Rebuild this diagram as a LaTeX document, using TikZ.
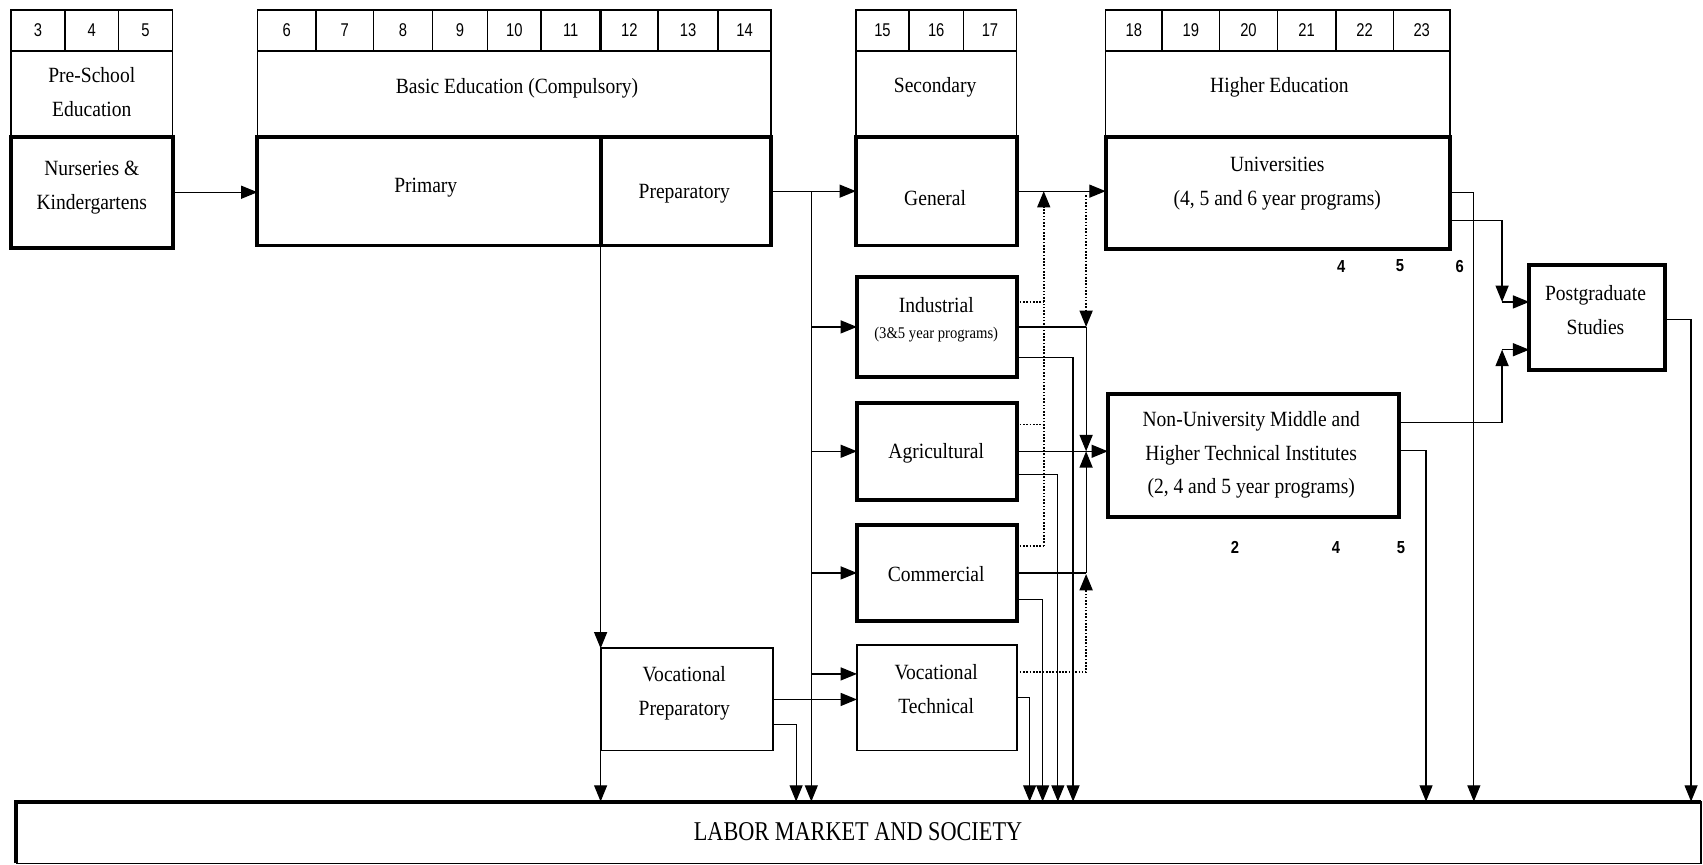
\documentclass[tikz,border=0pt]{standalone}
\usepackage{fontspec}
\setmainfont{Liberation Serif}[FakeStretch=0.9]
\newfontfamily\labfont{Liberation Serif}[FakeStretch=0.82]
\newfontfamily\digfont{Liberation Sans}[FakeStretch=0.8]
\newfontfamily\bdfont{Liberation Sans}[FakeStretch=0.85]
\usetikzlibrary{arrows.meta,calc}
\begin{document}
\begin{tikzpicture}[x=1pt,y=-1pt,
  every node/.style={inner sep=0pt,outer sep=0pt},
  cell/.style={draw,line width=1.4pt,minimum height=38pt,font=\digfont\fontsize{17}{17}\selectfont},
  lbox/.style={draw,line width=1.4pt},
  tbox/.style={draw,line width=3.6pt},
  mbox/.style={draw,line width=1.7pt},
  txt/.style={align=center,font=\fontsize{20}{31}\selectfont},
  stxt/.style={align=center,font=\fontsize{15}{18}\selectfont},
  num/.style={font=\bdfont\bfseries\fontsize{16}{16}\selectfont},
  con/.style={line width=1.1pt},
  arr/.style={con,-{Triangle[length=15pt,width=12pt]}},
  dot/.style={line width=1.5pt,dash pattern=on 1.5pt off 1.5pt},
  darr/.style={dot,-{Triangle[length=15pt,width=12pt]}}]
\useasboundingbox (0,0) rectangle (1568,796.4);

% ---- age rows ----
\foreach \a/\b/\t in {10/60/3,60/109/4,109/159/5,
  237/291/6,291/344/7,344/398/8,398/449/9,449/498/10,498/553/11,553/606/12,606/661/13,661/710/14,
  788/837/15,837/887/16,887/936/17,
  1018/1070/18,1070/1123/19,1123/1176/20,1176/1230/21,1230/1283/22,1283/1335/23}
  \node[cell,minimum width={\b-\a}] (age\t) at ({(\a+\b)/2},28) {\t};
\draw[line width=3pt] (age11.north east) -- (age11.south east);

% ---- label boxes ----
\node[lbox,minimum width=149pt,minimum height=79pt] (preL) at (84.5,86.5) {};
\node[lbox,minimum width=473pt,minimum height=79pt] (basL) at (473.5,86.5) {};
\node[lbox,minimum width=148pt,minimum height=79pt] (secL) at (862,86.5) {};
\node[lbox,minimum width=317pt,minimum height=79pt] (higL) at (1176.5,86.5) {};
\node[txt] (preT) at (84.5,85) {Pre-School\\Education};
\node[txt] (basT) at (476,81) {Basic Education (Compulsory)};
\node[txt] (secT) at (861,80) {Secondary};
\node[txt] (higT) at (1178,80) {Higher Education};

% ---- main boxes ----
\node[tbox,minimum width=149pt,minimum height=102pt] (nurs) at (84.5,177) {};
\node[tbox,minimum width=316pt,minimum height=100pt] (prim) at (395,176) {};
\node[tbox,minimum width=157pt,minimum height=100pt] (prep) at (631.5,176) {};
\node[tbox,minimum width=148pt,minimum height=100pt] (gen) at (862,176) {};
\node[tbox,minimum width=317pt,minimum height=103pt] (univ) at (1176.5,177.5) {};
\node[tbox,minimum width=147pt,minimum height=92pt] (ind) at (862.5,301) {};
\node[tbox,minimum width=147pt,minimum height=89pt] (agr) at (862.5,415.5) {};
\node[tbox,minimum width=147pt,minimum height=89pt] (com) at (862.5,527.5) {};
\node[mbox,minimum width=147pt,minimum height=97pt] (vtech) at (862.5,642.5) {};
\node[mbox,minimum width=159pt,minimum height=94pt] (vprep) at (632.5,644) {};
\node[tbox,minimum width=268pt,minimum height=113pt] (nonu) at (1154,419.5) {};
\node[tbox,minimum width=125pt,minimum height=97pt] (post) at (1470.5,292.5) {};
\node[lbox,minimum width=1551pt,minimum height=57pt] (labor) at (790.5,766.5) {};
\draw[line width=3.6pt] (labor.south west) -- (labor.north west) -- (labor.north east);

% ---- texts ----
\node[txt] (nursT) at (84.5,172.5) {Nurseries \&\\Kindergartens};
\node[txt] (primT) at (392,173) {Primary};
\node[txt] (prepT) at (630,178) {Preparatory};
\node[txt] (genT) at (861,182) {General};
\node[txt] (univT) at (1176,169) {Universities\\(4, 5 and 6 year programs)};
\node[txt] (indT) at (862,281) {Industrial};
\node[stxt] (indS) at (862,308) {(3\&5 year programs)};
\node[txt] (agrT) at (862,417) {Agricultural};
\node[txt] (comT) at (862,529) {Commercial};
\node[txt] (vtechT) at (862,634.5) {Vocational\\Technical};
\node[txt] (vprepT) at (630,638.5) {Vocational\\Preparatory};
\node[txt] (nonuT) at (1152,419) {Non-University Middle and\\Higher Technical Institutes\\(2, 4 and 5 year programs)};
\node[txt] (postT) at (1469,285.5) {Postgraduate\\Studies};
\node[font=\labfont\fontsize{25}{25}\selectfont] (laborT) at (790,766) {LABOR MARKET AND SOCIETY};
\node[num] (u4) at (1235,245) {4};
\node[num] (u5) at (1289,245) {5};
\node[num] (u6) at (1344,245) {6};
\node[num] (n2) at (1137,504) {2};
\node[num] (n4) at (1230,504) {4};
\node[num] (n5) at (1290,504) {5};

% ---- connectors ----
\draw[arr] (nurs.east) -- (nurs.east -| prim.west);
\draw[arr] (prep.east) -- (gen.west);
\coordinate (dtop) at ($(prep.east)+(37,0)$);
\draw[arr] (dtop) -- (dtop |- labor.north);
\draw[arr] (dtop |- ind.west) -- (ind.west);
\draw[arr] (dtop |- agr.west) -- (agr.west);
\draw[arr] (dtop |- com.west) -- (com.west);
\coordinate (vt1) at ($(vtech.west)+(0,-22)$);
\draw[arr] (dtop |- vt1) -- (vt1);
\draw[arr] (prim.south east) -- (vprep.north west);
\draw[arr] (vprep.south west) -- (vprep.south west |- labor.north);
\draw[arr] (vprep.east) -- (vprep.east -| vtech.west);
\coordinate (vp2) at ($(vprep.east)+(21,23)$);
\draw[arr] (vprep.east |- vp2) -- (vp2) -- (vp2 |- labor.north);

\draw[arr] (gen.east) -- (gen.east -| univ.west);

% dotted links
\coordinate (xa) at ($(gen.east)+(25,0)$);
\coordinate (xb) at ($(gen.east)+(64,0)$);
\coordinate (di) at ($(ind.east)+(0,-23)$);
\coordinate (dg) at ($(agr.east)+(0,-24.5)$);
\coordinate (dA) at ($(com.east)+(0,-24.5)$);
\draw[dot] (di) -- (di -| xa);
\draw[dot] (dg) -- (dg -| xa);
\draw[dot] (dA) -- (dA -| xa);
\draw[darr] (dA -| xa) -- (xa);
\coordinate (xb1) at ($(xb)+(0,4)$);
\draw[darr] (xb1) -- (xb |- ind.east);
\coordinate (vt2) at ($(vtech.east)+(0,-23.5)$);
\coordinate (xb2) at ($(xb |- com.east)+(0,1)$);
\draw[darr] (vt2) -- (vt2 -| xb) -- (xb2);

% to Non-University
\coordinate (jn) at (xb |- agr.east);
\draw[con] (ind.east) -- (xb |- ind.east);
\draw[arr] (xb |- ind.east) -- (jn);
\draw[con] (com.east) -- (xb |- com.east);
\draw[arr] (xb |- com.east) -- (jn);
\draw[arr] (agr.east) -- (agr.east -| nonu.west);

% secondary to labor
\coordinate (l1) at ($(ind.east)+(52,28)$);
\draw[arr] (ind.east |- l1) -- (l1) -- (l1 |- labor.north);
\coordinate (l2) at ($(agr.east)+(38,21.5)$);
\draw[arr] (agr.east |- l2) -- (l2) -- (l2 |- labor.north);
\coordinate (l3) at ($(com.east)+(24,24.5)$);
\draw[arr] (com.east |- l3) -- (l3) -- (l3 |- labor.north);
\coordinate (l4) at ($(vtech.east)+(12,0)$);
\draw[arr] (vtech.east) -- (l4) -- (l4 |- labor.north);

% universities
\coordinate (u1) at ($(univ.east)+(22,-0.5)$);
\draw[arr] (univ.east |- u1) -- (u1) -- (u1 |- labor.north);
\coordinate (u2) at ($(univ.east)+(48,25.5)$);
\coordinate (u3) at ($(post.west)+(-25,-14.5)$);
\draw[arr] (univ.east |- u2) -- (u2) -- (u3);
\draw[arr] (u3) -- (u3 -| post.west);

% non-university
\coordinate (n1) at ($(nonu.east)+(95,-30.5)$);
\coordinate (n3) at ($(post.west)+(-25,29.5)$);
\draw[arr] (nonu.east |- n1) -- (n1) -- (n3);
\draw[arr] (n3) -- (n3 -| post.west);
\coordinate (nl) at ($(nonu.east)+(25,-4.5)$);
\draw[arr] (nonu.east |- nl) -- (nl) -- (nl |- labor.north);

% postgraduate
\coordinate (p1) at ($(post.east)+(24,1.5)$);
\draw[arr] (post.east |- p1) -- (p1) -- (p1 |- labor.north);
\end{tikzpicture}
\end{document}
